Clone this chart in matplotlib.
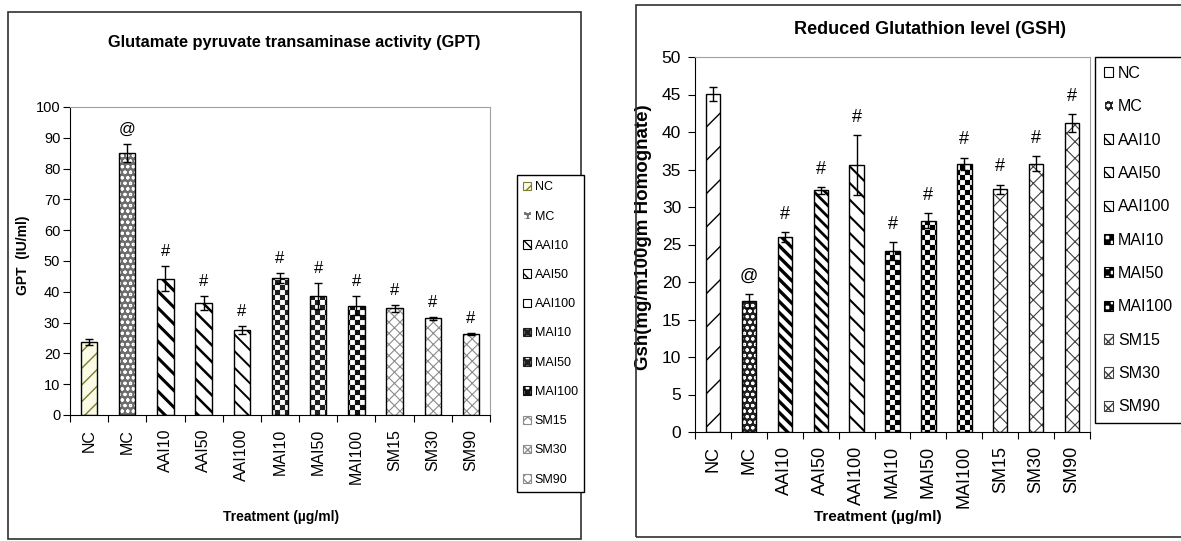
import numpy as np
import matplotlib
matplotlib.use("Agg")
import matplotlib.pyplot as plt
import matplotlib.hatch as mhatch
from matplotlib.path import Path
from matplotlib.patches import Rectangle

# ---- data ----
treatments = ["NC", "MC", "AAI10", "AAI50", "AAI100", "MAI10", "MAI50",
              "MAI100", "SM15", "SM30", "SM90"]

gpt_mean = [23.8, 85.0, 44.3, 36.4, 27.5, 44.4, 38.6, 35.5, 34.6, 31.4, 26.2]
gpt_err = [1.0, 3.0, 4.0, 2.2, 1.3, 1.7, 4.3, 3.1, 1.0, 0.5, 0.3]
gpt_marks = ["", "@", "#", "#", "#", "#", "#", "#", "#", "#", "#"]

gsh_mean = [45.1, 17.5, 26.0, 32.2, 35.6, 24.1, 28.2, 35.8, 32.4, 35.8, 41.2]
gsh_err = [0.9, 0.9, 0.7, 0.5, 4.0, 1.2, 1.0, 0.8, 0.6, 1.0, 1.2]
gsh_marks = ["", "@", "#", "#", "#", "#", "#", "#", "#", "#", "#"]

FONT = ["Liberation Sans", "DejaVu Sans"]


# checkerboard fill for the MAI bars; '*' is reused as its hatch letter
class CheckerHatch(mhatch.HatchPatternBase):
    def __init__(self, hatch, density):
        self.num_rows = hatch.count("*") * 10
        self.num_vertices = (self.num_rows * self.num_rows // 2) * 5

    def set_vertices_and_codes(self, vertices, codes):
        step = 1.0 / self.num_rows
        k = 0
        for i in range(self.num_rows):
            for j in range(self.num_rows):
                if (i + j) % 2:
                    continue
                x0, y0 = j * step, i * step
                vertices[k:k + 5] = [(x0, y0), (x0 + step, y0), (x0 + step, y0 + step),
                                     (x0, y0 + step), (x0, y0)]
                codes[k:k + 5] = [Path.MOVETO, Path.LINETO, Path.LINETO,
                                  Path.LINETO, Path.CLOSEPOLY]
                k += 5


mhatch._hatch_types = [t for t in mhatch._hatch_types if t is not mhatch.Stars] + [CheckerHatch]

# (face colour, hatch, hatch colour, hatch linewidth)
left_styles = [
    ("#fbfbe6", "//", "#7d7d30", 1.0),
    ("#6e6e6e", "ooo", "white", 0.8),
    ("white", "\\\\", "black", 2.2),
    ("white", "\\\\", "black", 1.8),
    ("white", "\\\\", "black", 1.4),
    ("white", "**", "#202020", 0.1),
    ("white", "**", "#202020", 0.1),
    ("white", "**", "#101010", 0.1),
    ("white", "xxx", "#8c8c8c", 0.8),
    ("white", "xxx", "#8c8c8c", 0.8),
    ("white", "xxx", "#8c8c8c", 0.8),
]
right_styles = [
    ("white", "/", "black", 1.0),
    ("#202020", "ooo", "white", 0.8),
    ("white", "\\\\\\", "black", 2.4),
    ("white", "\\\\\\", "black", 2.0),
    ("white", "\\\\", "black", 1.5),
    ("white", "**", "black", 0.1),
    ("white", "**", "black", 0.1),
    ("white", "**", "black", 0.1),
    ("white", "xx", "#404040", 0.8),
    ("white", "xx", "#404040", 0.8),
    ("white", "xx", "#404040", 0.8),
]


def hatched(artist, hlw):
    if hasattr(artist, "set_hatch_linewidth"):
        artist.set_hatch_linewidth(hlw)
    return artist


def draw_panel(ax, means, errs, marks, styles, width, fs):
    x = np.arange(len(treatments))
    proxies = []
    for i in range(len(treatments)):
        face, hatch, hc, hlw = styles[i]
        with plt.rc_context({"hatch.linewidth": hlw}):
            b = ax.bar(x[i], means[i], width, color=face, edgecolor=hc,
                       hatch=hatch, linewidth=0, zorder=2)
            proxy = Rectangle((0, 0), 1, 1, facecolor=face, edgecolor=hc,
                              hatch=hatch, linewidth=0.8)
        for p in b:
            hatched(p, hlw)
        proxies.append(hatched(proxy, hlw))
    ax.bar(x, means, width, fill=False, edgecolor="black", linewidth=1, zorder=3)
    ax.errorbar(x, means, yerr=errs, fmt="none", ecolor="black", elinewidth=1,
                capsize=3, capthick=1, zorder=4)
    for i, m in enumerate(marks):
        if m:
            ax.annotate(m, (x[i], means[i] + errs[i]), xytext=(0, fs["mark_off"]),
                        textcoords="offset points", ha="center", va="bottom",
                        fontsize=fs["mark"], family=FONT)

    ax.set_xlim(-0.5, len(treatments) - 0.5)
    ax.set_xticks(np.arange(-0.5, len(treatments), 1))
    ax.set_xticklabels([])
    ax.set_xticks(x, minor=True)
    ax.set_xticklabels(treatments, minor=True, rotation=90, family=FONT,
                       fontsize=fs["xtick"])
    ax.tick_params(axis="x", which="major", length=5, direction="out")
    ax.tick_params(axis="x", which="minor", length=0, pad=fs["xpad"])
    ax.tick_params(axis="y", length=5, direction="out", pad=fs["ypad"])
    for lab in ax.get_yticklabels():
        lab.set_family(FONT)
        lab.set_fontsize(fs["ytick"])
    for side in ("left", "bottom"):
        ax.spines[side].set_color("black")
    for side in ("top", "right"):
        ax.spines[side].set_color("#a0a0a0")
    return proxies


fig = plt.figure(figsize=(11.81, 5.41), dpi=100)
W, H = 1181, 541


def px_axes(x0, y0, x1, y1):
    return fig.add_axes([x0 / W, 1 - y1 / H, (x1 - x0) / W, (y1 - y0) / H])


# frames around each chart
fig.add_artist(Rectangle((8 / W, 1 - 539 / H), 573 / W, 527 / H, transform=fig.transFigure,
                         fill=False, edgecolor="#303030", linewidth=1.2))
fig.add_artist(Rectangle((636 / W, 1 - 537 / H), 620 / W, 532 / H, transform=fig.transFigure,
                         fill=False, edgecolor="#303030", linewidth=1.2))

# ---- left panel: GPT ----
ax1 = px_axes(70, 107, 490, 415)
ax1.set_ylim(0, 100)
ax1.set_yticks(np.arange(0, 101, 10))
h1 = draw_panel(ax1, gpt_mean, gpt_err, gpt_marks, left_styles, 0.43,
                dict(mark=12, mark_off=5, xtick=11.5, xpad=10, ypad=2, ytick=10.5))
ax1.set_ylabel("GPT  (IU/ml)", fontsize=10, fontweight="bold", family=FONT)
ax1.yaxis.set_label_coords(-0.095, 0.52)
ax1.set_xlabel("Treatment (µg/ml)", fontsize=10, fontweight="bold", family=FONT)
ax1.xaxis.set_label_coords(0.502, -0.331)
ax1.xaxis.label.set_va("center")
fig.text(294 / W, 1 - 43 / H, "Glutamate pyruvate transaminase activity (GPT)",
         ha="center", va="center", fontsize=11.8, fontweight="bold", family=FONT)
leg1 = fig.legend(handles=h1, labels=treatments, loc="upper left",
                  bbox_to_anchor=(517 / W, 1 - 175 / H), borderaxespad=0,
                  prop={"family": FONT, "size": 9}, handlelength=0.65,
                  handleheight=0.65, handletextpad=0.25, labelspacing=1.38,
                  fancybox=False, framealpha=1, edgecolor="black", borderpad=0.5)
leg1.get_frame().set_linewidth(1)

# ---- right panel: GSH ----
ax2 = px_axes(695, 57, 1090, 432)
ax2.set_ylim(0, 50)
ax2.set_yticks(np.arange(0, 51, 5))
h2 = draw_panel(ax2, gsh_mean, gsh_err, gsh_marks, right_styles, 0.40,
                dict(mark=13, mark_off=6.5, xtick=13, xpad=10, ypad=5, ytick=12.5))
ax2.set_ylabel("Gsh(mg/m100gm Homognate)", fontsize=13.5, fontweight="bold", family=FONT)
ax2.yaxis.set_label_coords(-0.109, 0.52)
ax2.set_xlabel("Treatment (µg/ml)", fontsize=11, fontweight="bold", family=FONT)
ax2.xaxis.set_label_coords(0.463, -0.227)
ax2.xaxis.label.set_va("center")
fig.text(930 / W, 1 - 30 / H, "Reduced Glutathion level (GSH)",
         ha="center", va="center", fontsize=13, fontweight="bold", family=FONT)
leg2 = fig.legend(handles=h2, labels=treatments, loc="upper left",
                  bbox_to_anchor=(1095 / W, 1 - 57 / H), borderaxespad=0,
                  prop={"family": FONT, "size": 11.5}, handlelength=0.6,
                  handleheight=0.6, handletextpad=0.3, labelspacing=1.15,
                  fancybox=False, framealpha=1, edgecolor="black", borderpad=0.55)
leg2.get_frame().set_linewidth(1)

fig.savefig("out.png", dpi=100)
